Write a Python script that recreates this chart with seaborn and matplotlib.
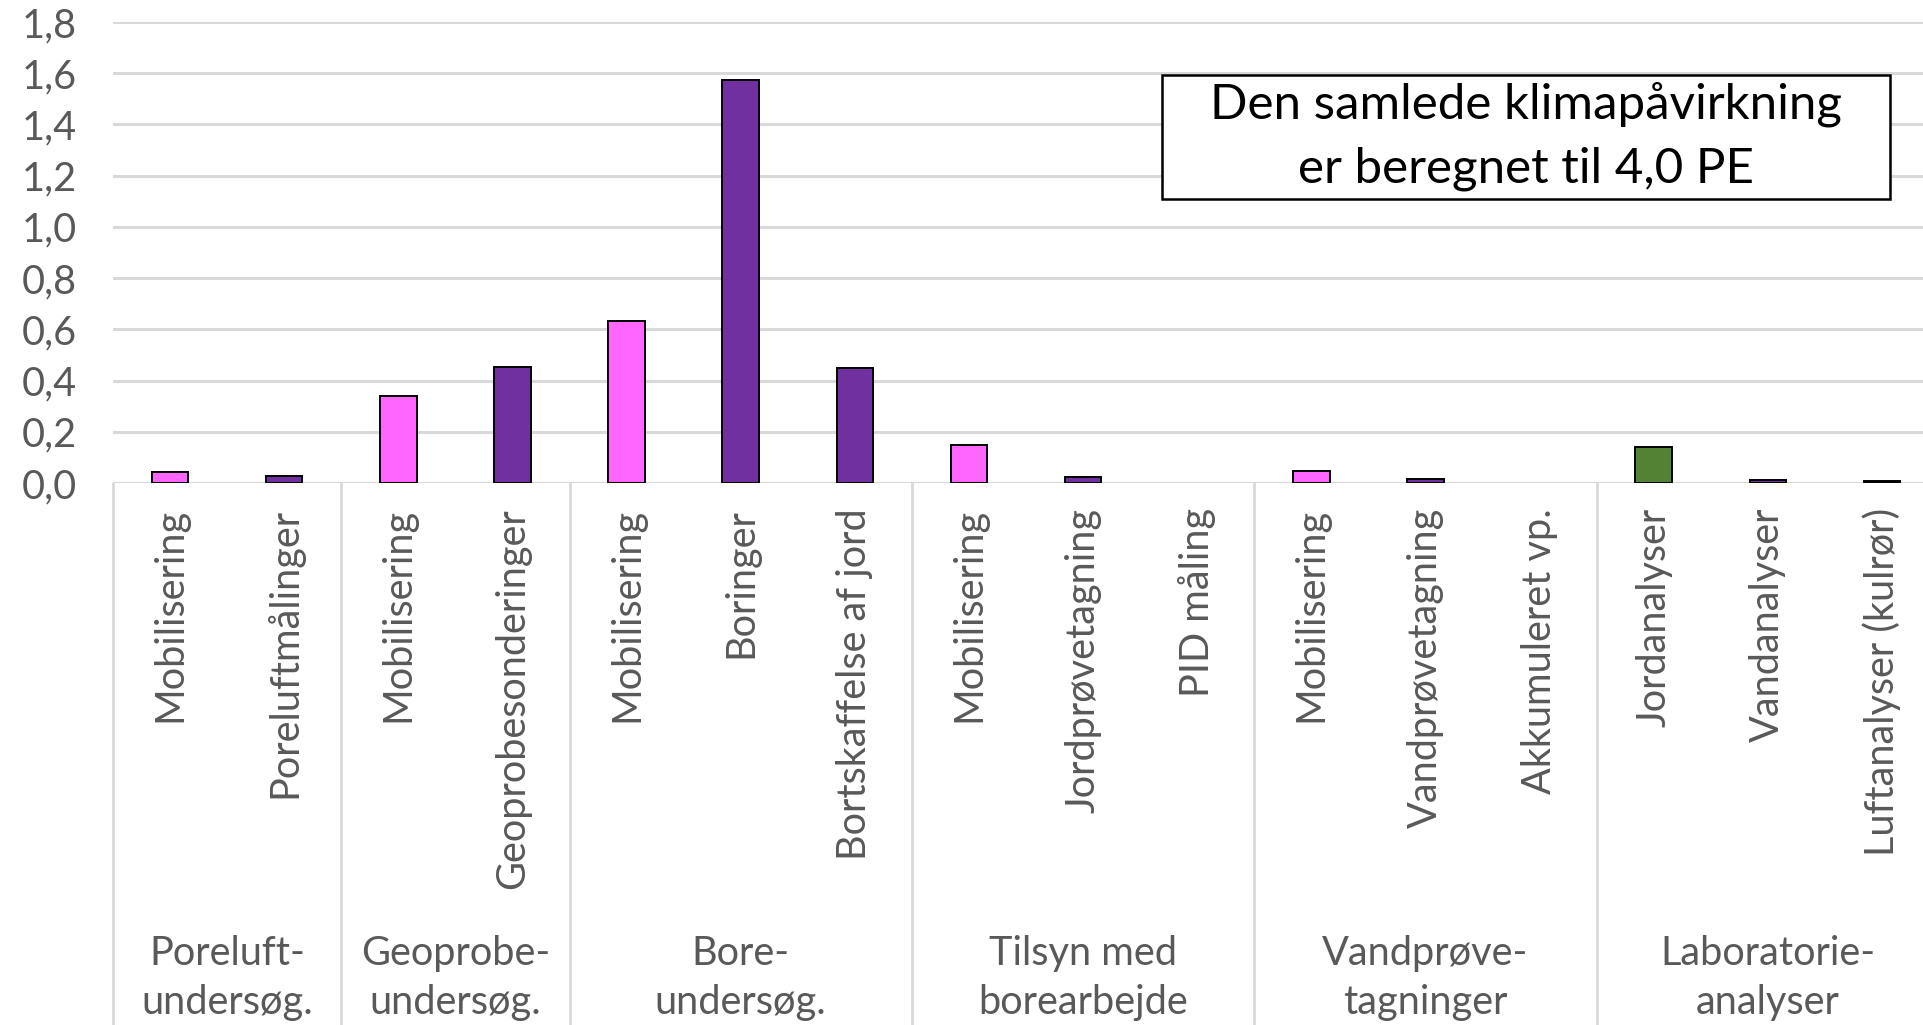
import matplotlib
matplotlib.use("Agg")
import matplotlib.pyplot as plt
import matplotlib.transforms as mtransforms
from matplotlib.patches import Rectangle
import seaborn as sns
import pandas as pd

# ---- data ----
groups = ["Poreluft-\nundersøg.", "Geoprobe-\nundersøg.", "Bore-\nundersøg.",
          "Tilsyn med\nborearbejde", "Vandprøve-\ntagninger", "Laboratorie-\nanalyser"]
group_sizes = [2, 2, 3, 3, 3, 3]
categories = ["Mobilisering", "Poreluftmålinger",
              "Mobilisering", "Geoprobesonderinger",
              "Mobilisering", "Boringer", "Bortskaffelse af jord",
              "Mobilisering", "Jordprøvetagning", "PID måling",
              "Mobilisering", "Vandprøvetagning", "Akkumuleret vp.",
              "Jordanalyser", "Vandanalyser", "Luftanalyser (kulrør)"]
values = [0.044, 0.028,
          0.338, 0.454,
          0.634, 1.574, 0.448,
          0.150, 0.025, 0.0,
          0.046, 0.015, 0.0,
          0.141, 0.011, 0.006]
kinds = ["mob", "work", "mob", "work", "mob", "work", "work",
         "mob", "work", "work", "mob", "work", "work",
         "lab", "work", "work"]
yticks = [0.0, 0.2, 0.4, 0.6, 0.8, 1.0, 1.2, 1.4, 1.6, 1.8]
note = "Den samlede klimapåvirkning\ner beregnet til 4,0 PE"

kind_colors = {"mob": "#FF66FF", "work": "#7030A0", "lab": "#548235"}

# ---- style ----
sns.set_theme(style="white")
plt.rcParams["font.family"] = ["Lato", "DejaVu Sans"]
TXT = "#595959"
GRID = "#D9D9D9"

W, H = 1924, 1025
fig = plt.figure(figsize=(W / 100, H / 100), dpi=100)
x0, x1 = 113, 1939
y0, y1 = 483, 22
ax = fig.add_axes([x0 / W, (H - y0) / H, (x1 - x0) / W, (y0 - y1) / H])

keys = [f"{i:02d}" for i in range(len(categories))]
df = pd.DataFrame({"key": keys, "value": values, "kind": kinds})
palette = {k: kind_colors[c] for k, c in zip(keys, kinds)}
sns.barplot(data=df, x="key", y="value", hue="key", palette=palette,
            width=0.32, edgecolor="black", linewidth=1.4, legend=False,
            saturation=1, ax=ax, zorder=3)
for p in ax.patches:
    if p.get_height() == 0:
        p.set_linewidth(0)

ax.set_xlim(-0.5, len(categories) - 0.5)
ax.set_ylim(0, 1.8)
ax.set_yticks(yticks)
ax.set_yticklabels([f"{v:.1f}".replace(".", ",") for v in yticks],
                   fontsize=28.5, color=TXT)
ax.tick_params(axis="y", length=0, pad=26)
ax.set_xticks(range(len(categories)))
ax.set_xticklabels(categories, rotation=90, va="top", ha="center",
                   fontsize=28.5, color=TXT)
ax.tick_params(axis="x", length=0, pad=18)
ax.set_xlabel("")
ax.set_ylabel("")
for s in ax.spines.values():
    s.set_visible(False)
ax.yaxis.grid(True, color=GRID, linewidth=2.2, zorder=0)
ax.set_axisbelow(True)
ax.axhline(0, color=GRID, linewidth=2.2, zorder=2)

# group separators and group labels
trans = mtransforms.blended_transform_factory(ax.transData, ax.transAxes)
bottom_frac = -(H - y0 + 20) / (y0 - y1)
start = -0.5
for g, n in zip(groups, group_sizes):
    ax.plot([start, start], [0, bottom_frac], transform=trans, color=GRID,
            linewidth=2.0, clip_on=False, zorder=1)
    ax.text(start + n / 2, -(978 - y0) / (y0 - y1), g, transform=trans,
            ha="center", va="center", multialignment="center",
            fontsize=28.6, color=TXT, linespacing=1.41)
    start += n
ax.plot([start, start], [0, bottom_frac], transform=trans, color=GRID,
        linewidth=2.0, clip_on=False, zorder=1)

# annotation box
bx0, bx1, by0, by1 = 1162, 1890, 75, 199
fig.patches.append(Rectangle((bx0 / W, (H - by1) / H), (bx1 - bx0) / W,
                             (by1 - by0) / H, transform=fig.transFigure,
                             facecolor="white", edgecolor="black",
                             linewidth=1.8, zorder=10))
fig.text((bx0 + bx1) / 2 / W, (H - (by0 + by1) / 2 + 1) / H, note,
         ha="center", va="center", multialignment="center",
         fontsize=35.5, color="black", linespacing=1.53, zorder=11)

fig.savefig("out.png", dpi=100)
